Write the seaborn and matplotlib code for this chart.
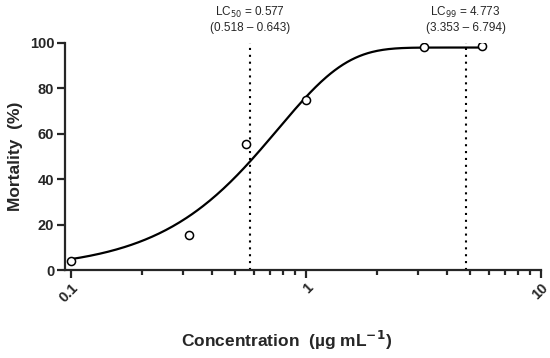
import numpy as np
import pandas as pd
import matplotlib
matplotlib.use("Agg")
import matplotlib.pyplot as plt
import matplotlib.ticker as mticker
import seaborn as sns

# observed mortality
conc = [0.1, 0.318, 0.556, 1.0, 3.18, 5.6]
mortality = [4.0, 15.5, 55.5, 74.8, 98.3, 98.8]

# fitted curve parameters (asymmetric sigmoid on log10 dose)
fit_top = 98.0
fit_slope = 3.4
fit_log_mid = -0.12

lc50 = 0.577
lc50_ci = (0.518, 0.643)
lc99 = 4.773
lc99_ci = (3.353, 6.794)

sns.set_style("ticks")
plt.rcParams['font.family'] = ['Liberation Sans', 'DejaVu Sans']

fig = plt.figure(figsize=(5.5, 3.58), dpi=100)
ax = fig.add_axes([65 / 550, 88 / 358, 476 / 550, 227 / 358])

# fitted curve
xs = np.logspace(np.log10(conc[0]), np.log10(conc[-1]), 300)
ys = fit_top * (1 - np.exp(-np.exp(fit_slope * (np.log10(xs) - fit_log_mid))))
curve = pd.DataFrame({'x': xs, 'y': ys})
sns.lineplot(data=curve, x='x', y='y', ax=ax, color='black', linewidth=1.6, zorder=2)

# LC lines
for val in [lc50, lc99]:
    ax.plot([val, val], [0, 100], color='black', linewidth=1.5,
            linestyle=(0, (1, 2.3)), zorder=1)

pts = pd.DataFrame({'x': conc, 'y': mortality})
sns.scatterplot(data=pts, x='x', y='y', ax=ax, marker='o', s=34,
                facecolor='white', edgecolor='black', linewidth=1.1, zorder=3)

ax.set_xscale('log')
ax.set_xlim(0.1 * 10 ** (-6 / 235), 10)
ax.set_ylim(0, 100)
ax.set_yticks([0, 20, 40, 60, 80, 100])
ax.xaxis.set_major_locator(mticker.FixedLocator([0.1, 1, 10]))
ax.xaxis.set_major_formatter(mticker.FixedFormatter(['0.1', '1', '10']))
ax.xaxis.set_minor_locator(mticker.LogLocator(base=10, subs=np.arange(2, 10)))
ax.xaxis.set_minor_formatter(mticker.NullFormatter())

for s in ['top', 'right']:
    ax.spines[s].set_visible(False)
for s in ['left', 'bottom']:
    ax.spines[s].set_linewidth(1.6)

ax.tick_params(axis='both', which='major', length=5.8, width=1.6, labelsize=10.5, pad=2)
ax.tick_params(axis='x', which='minor', length=3.8, width=1.6)
for lab in ax.get_yticklabels():
    lab.set_fontweight('bold')
for lab in ax.get_xticklabels():
    lab.set_fontweight('bold')
    lab.set_rotation(45)
    lab.set_ha('right')
    lab.set_va('top')
    lab.set_rotation_mode('anchor')

ax.set_xlabel('Concentration  (µg mL$^{\\mathbf{-1}}$)', fontsize=12.5, fontweight='bold', labelpad=17)
ax.xaxis.label.set_x((287 - 65) / 476)
ax.set_ylabel('Mortality  (%)', fontsize=12.5, fontweight='bold', labelpad=5)

# annotations above the dotted lines
for val, ci, sub in [(lc50, lc50_ci, '50'), (lc99, lc99_ci, '99')]:
    ax.annotate(f'LC$_{{{sub}}}$ = {val:.3f}', xy=(val, 1), xycoords=('data', 'axes fraction'),
                xytext=(0, 22), textcoords='offset points', ha='center', va='center', fontsize=8.5)
    ax.annotate(f'({ci[0]:.3f} – {ci[1]:.3f})', xy=(val, 1), xycoords=('data', 'axes fraction'),
                xytext=(0, 10.5), textcoords='offset points', ha='center', va='center', fontsize=8.5)

fig.savefig('out.png', dpi=100)
